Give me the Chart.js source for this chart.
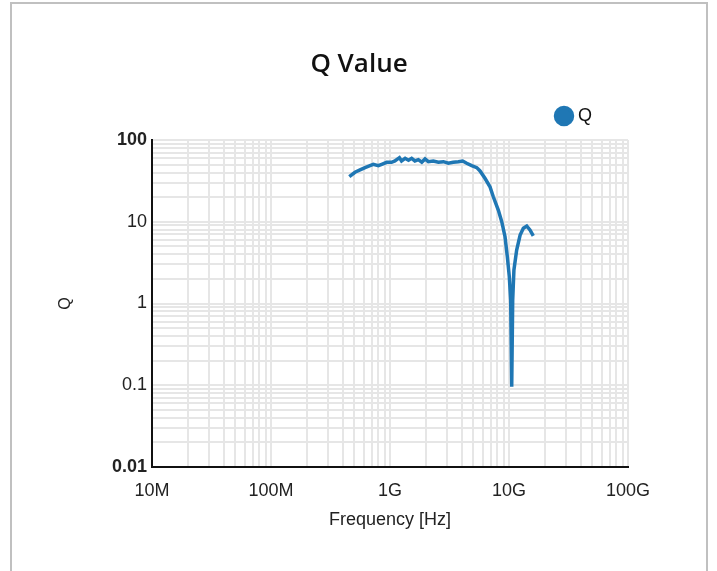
<!DOCTYPE html>
<html lang="en">
<head>
<meta charset="UTF-8">
<title>Q Value</title>
<script src="https://cdn.jsdelivr.net/npm/chart.js"></script>
<style>
    html, body { margin: 0; padding: 0; background: #fff; overflow: hidden; }
    #box {
        position: absolute;
        left: 10px;
        top: 2px;
        width: 694px;
        height: 600px;
        border: 2px solid #c0c0c0;
    }
</style>
</head>
<body>
<div id="box"><canvas id="qChart"></canvas></div>
<script>
    const freqHz = [4.55e8, 5.08e8, 5.60e8, 6.17e8, 6.79e8, 7.24e8, 7.98e8, 8.52e8, 9.38e8, 1.03e9,
                    1.10e9, 1.20e9, 1.25e9, 1.34e9, 1.43e9, 1.52e9, 1.62e9, 1.73e9, 1.85e9, 1.97e9,
                    2.10e9, 2.31e9, 2.55e9, 2.81e9, 3.09e9, 3.40e9, 3.75e9, 4.08e9, 4.41e9, 4.86e9,
                    5.36e9, 5.71e9, 6.28e9, 6.92e9, 7.38e9, 8.13e9, 8.69e9, 9.26e9, 9.68e9, 1.006e10,
                    1.033e10, 1.054e10, 1.074e10, 1.10e10, 1.16e10, 1.24e10, 1.32e10, 1.41e10, 1.50e10, 1.60e10];
    const qValue = [35.6, 40.3, 43.0, 45.9, 48.5, 50.4, 48.5, 50.4, 53.4, 53.4,
                    55.4, 60.8, 55.4, 59.7, 56.5, 59.7, 55.4, 57.4, 53.4, 58.6,
                    54.3, 55.4, 53.4, 54.3, 51.9, 53.4, 54.3, 55.4, 51.9, 48.5,
                    45.9, 41.8, 34.0, 26.8, 20.2, 13.9, 10.0, 6.56, 3.74, 2.13,
                    1.10, 0.096, 1.10, 2.57, 4.51, 6.88, 8.32, 8.87, 7.93, 6.70];

    // axis decades and their labels
    const xDecades = [1e7, 1e8, 1e9, 1e10, 1e11];
    const xTickLabels = ['10M', '100M', '1G', '10G', '100G'];
    const yDecades = [0.01, 0.1, 1, 10, 100];
    const yTickLabels = ['0.01', '0.1', '1', '10', '100'];

    // 1..9 per decade, for the minor grid
    function logTicks(decades) {
        const out = [];
        for (let i = 0; i < decades.length - 1; i++) {
            for (let k = 1; k < 10; k++) out.push({value: k * decades[i]});
        }
        out.push({value: decades[decades.length - 1]});
        return out;
    }

    function decadeLabel(value, decades, labels) {
        const i = decades.findIndex(d => Math.abs(value / d - 1) < 1e-6);
        return i >= 0 ? labels[i] : '';
    }

    const gridColor = '#e6e6e6';
    const axisColor = '#111';

    // a little extra room under the legend
    const legendGap = {
        id: 'legendGap',
        afterInit(chart) {
            const lg = chart.legend;
            if (lg) {
                const fit = lg.fit;
                lg.fit = function () { fit.call(this); this.height += 5; };
            }
        }
    };

    const points = freqHz.map((f, i) => ({x: f, y: qValue[i]}));

    new Chart(document.getElementById('qChart'), {
        type: 'line',
        data: {
            datasets: [{
                label: 'Q',
                data: points,
                borderColor: '#1f77b4',
                backgroundColor: '#1f77b4',
                borderWidth: 3.5,
                pointRadius: 0,
                pointHoverRadius: 0,
                tension: 0,
                fill: false
            }]
        },
        plugins: [legendGap],
        options: {
            responsive: true,
            maintainAspectRatio: false,
            animation: false,
            layout: { padding: { bottom: 37 } },
            plugins: {
                title: {
                    display: true,
                    text: 'Q Value',
                    color: '#111',
                    font: { family: 'Open Sans', size: 26, weight: '600' },
                    padding: { top: 44.9, bottom: -9.1 }
                },
                legend: {
                    position: 'top',
                    align: 'end',
                    fullSize: false,
                    labels: {
                        usePointStyle: true,
                        pointStyle: 'circle',
                        boxWidth: 10,
                        boxHeight: 12,
                        padding: 36,
                        color: '#111',
                        font: { family: 'Liberation Sans', size: 18 }
                    }
                },
                tooltip: { enabled: false }
            },
            scales: {
                x: {
                    type: 'logarithmic',
                    min: 1e7,
                    max: 1e11,
                    afterBuildTicks: s => { s.ticks = logTicks(xDecades); },
                    afterFit: s => { s.height = 100; s.paddingRight = 78; },
                    grid: { color: gridColor, lineWidth: 2, drawTicks: false },
                    border: { color: axisColor, width: 2 },
                    ticks: {
                        autoSkip: false,
                        maxRotation: 0,
                        padding: 13,
                        color: '#222',
                        font: { family: 'Liberation Sans', size: 18 },
                        callback: v => decadeLabel(v, xDecades, xTickLabels)
                    },
                    title: {
                        display: true,
                        text: 'Frequency [Hz]',
                        color: '#222',
                        font: { family: 'Liberation Sans', size: 18 },
                        padding: { top: 0, bottom: 36 }
                    }
                },
                y: {
                    type: 'logarithmic',
                    min: 0.01,
                    max: 100,
                    afterBuildTicks: s => { s.ticks = logTicks(yDecades); },
                    afterFit: s => { s.width = 140; },
                    grid: { color: gridColor, lineWidth: 2, drawTicks: false },
                    border: { color: axisColor, width: 2 },
                    ticks: {
                        autoSkip: false,
                        padding: 5,
                        color: '#222',
                        font: ctx => {
                            const v = ctx.tick ? ctx.tick.value : 0;
                            const edge = Math.abs(v / 100 - 1) < 1e-6 || Math.abs(v / 0.01 - 1) < 1e-6;
                            return { family: 'Liberation Sans', size: 18, weight: edge ? 'bold' : 'normal' };
                        },
                        callback: v => decadeLabel(v, yDecades, yTickLabels)
                    },
                    title: {
                        display: true,
                        text: 'Q',
                        color: '#222',
                        font: { family: 'Liberation Sans', size: 16 },
                        padding: { top: 44.4, bottom: 0 }
                    }
                }
            }
        }
    });
</script>
</body>
</html>
